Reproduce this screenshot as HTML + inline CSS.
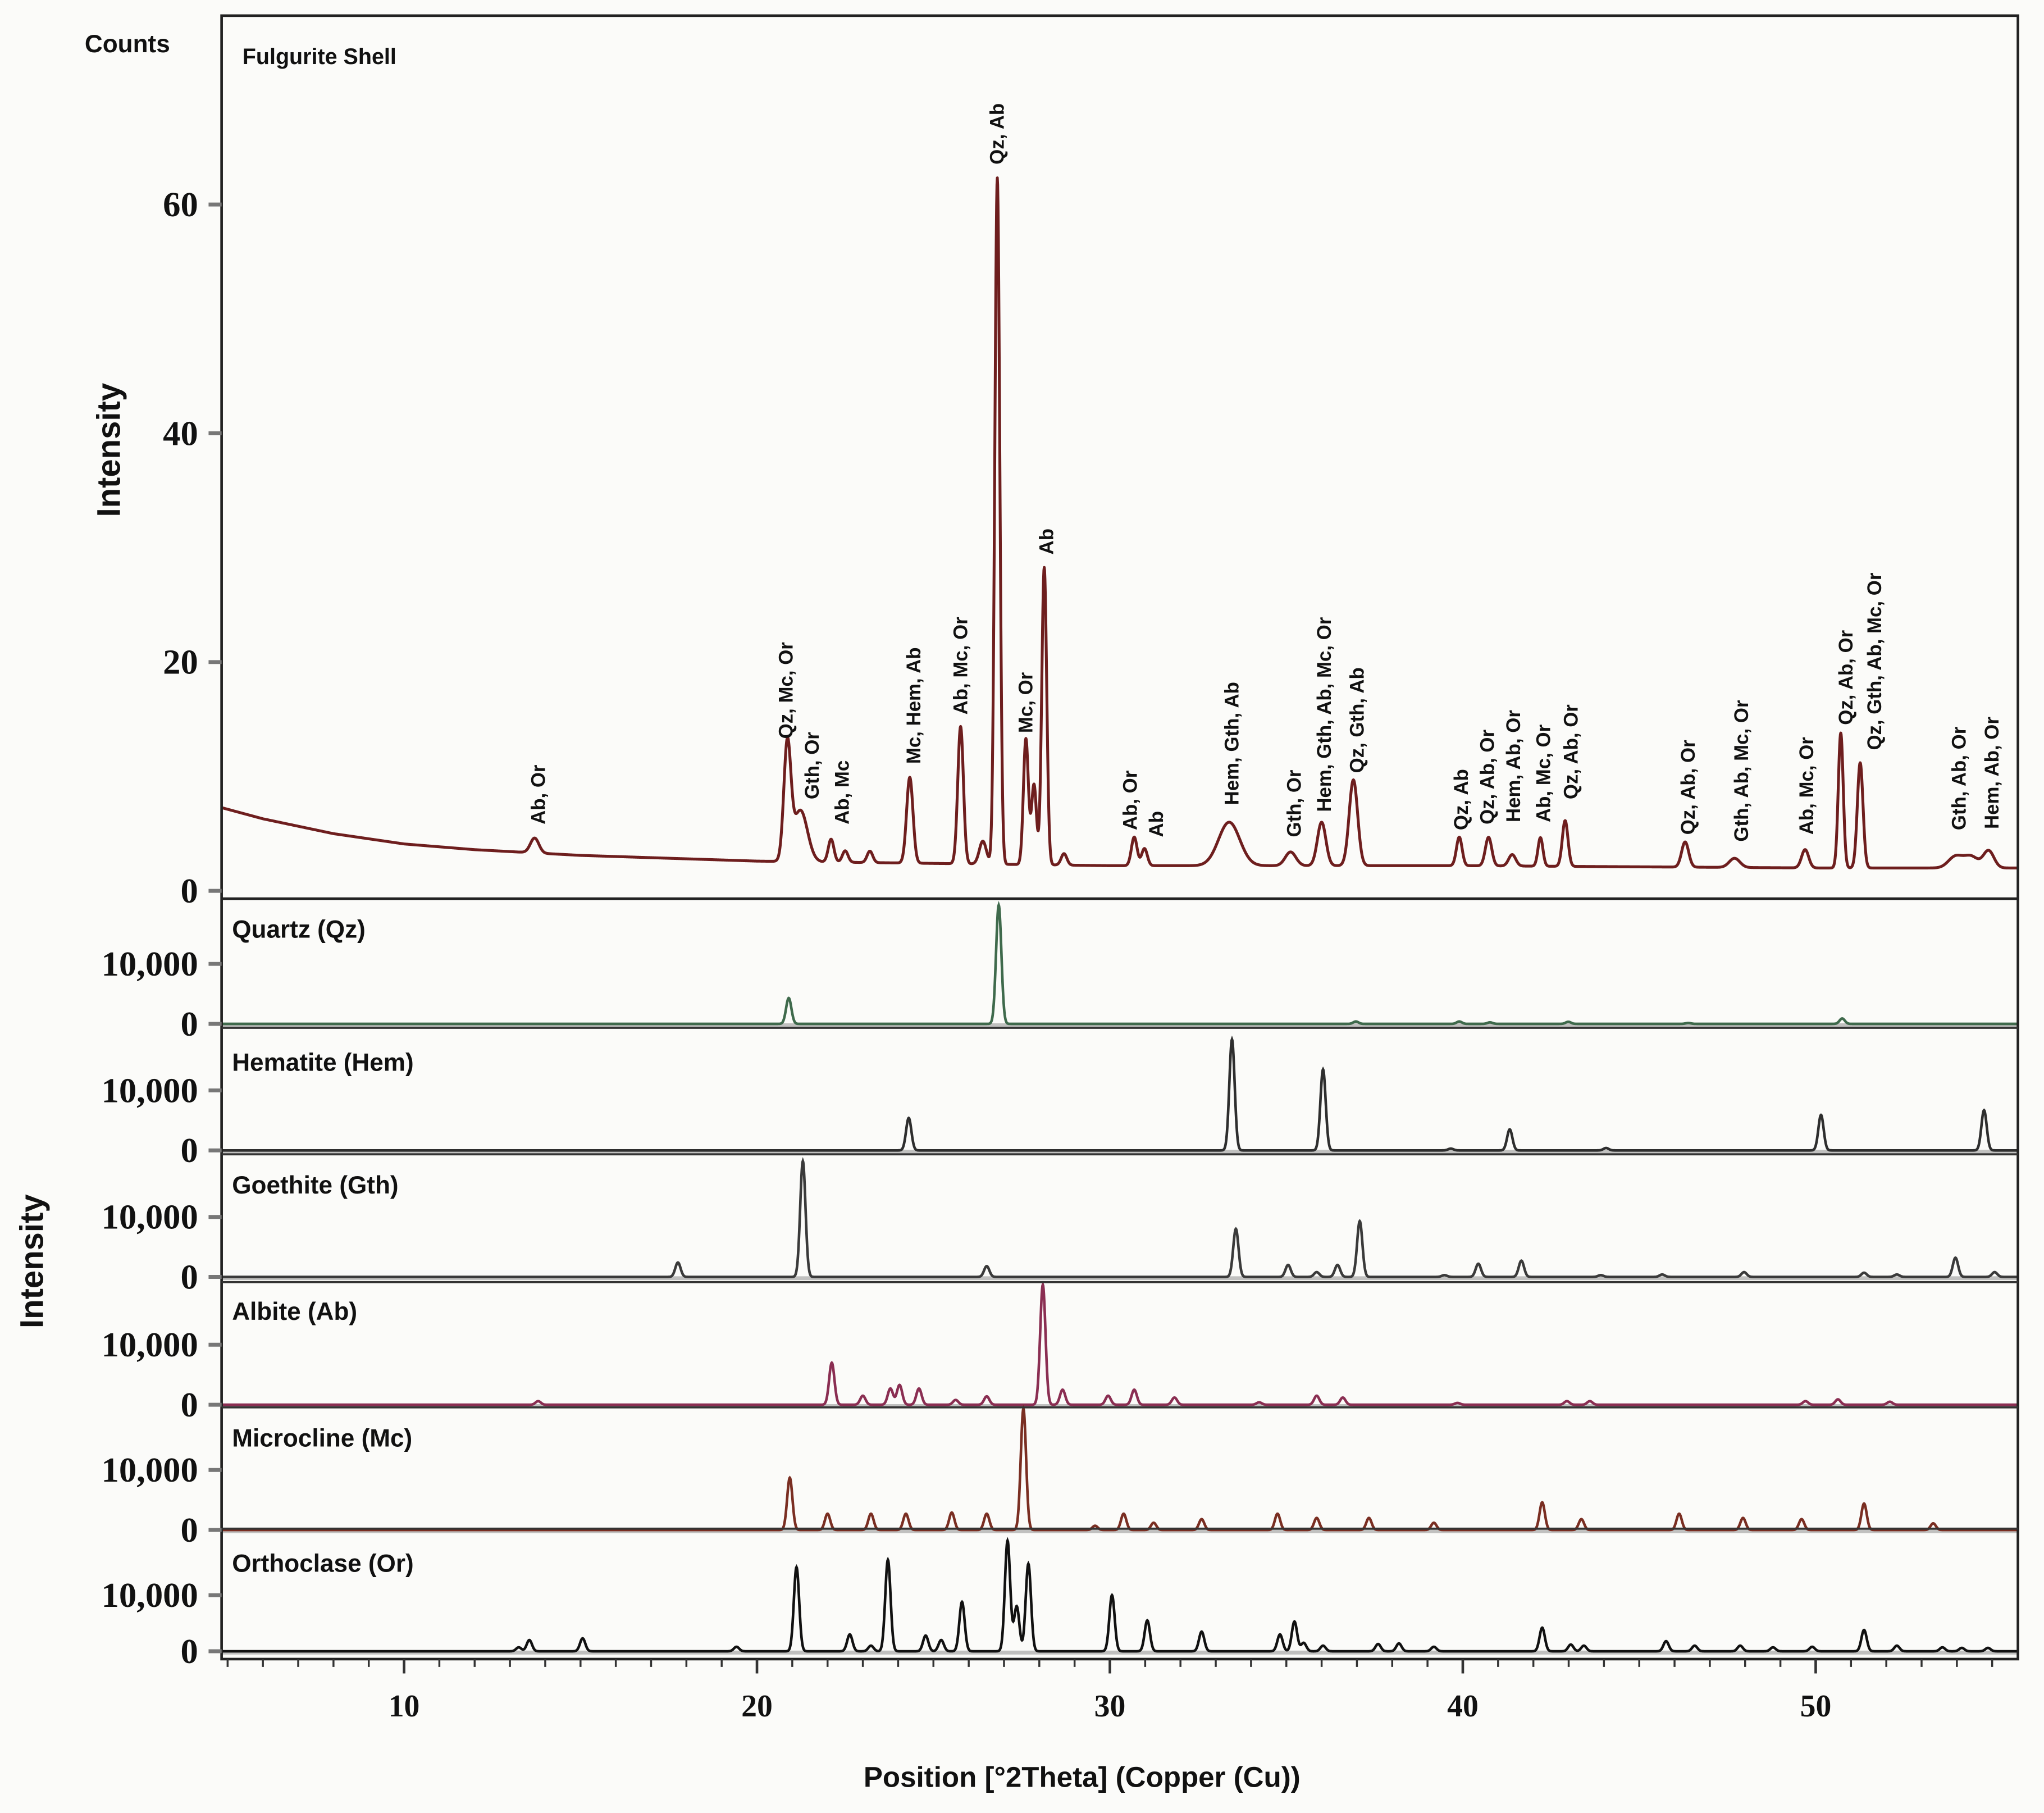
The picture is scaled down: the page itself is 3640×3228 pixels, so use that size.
<!DOCTYPE html>
<html><head><meta charset="utf-8"><style>
html,body{margin:0;padding:0;background:#fbfbf9}
svg{display:block}
text{font-family:"Liberation Sans",sans-serif;font-weight:bold;fill:#111}
.tn{font-family:"Liberation Serif",serif;font-weight:bold}
</style></head><body>
<svg id="chart" width="3640" height="3228" viewBox="0 0 1568 1390" preserveAspectRatio="none" xmlns="http://www.w3.org/2000/svg">
<rect x="0" y="0" width="1568" height="1390" fill="#fbfbf9"/>
<g id="marks"></g>
<rect x="170" y="12" width="1378" height="1260" fill="none" stroke="#222" stroke-width="2"/>
<line x1="170" y1="689" x2="1548" y2="689" stroke="#222" stroke-width="2"/>
<g id="axes"></g>
<text x="65" y="40" font-size="19">Counts</text>
<text x="186" y="49" font-size="17">Fulgurite Shell</text>
<text transform="translate(92,345) rotate(-90)" text-anchor="middle" font-size="25">Intensity</text>
<text transform="translate(33,967) rotate(-90)" text-anchor="middle" font-size="25">Intensity</text>
<text x="830" y="1370" text-anchor="middle" font-size="22">Position [°2Theta] (Copper (Cu))</text>
</svg>
<script>
const NS='http://www.w3.org/2000/svg';
// x axis
const xTicks=[10,20,30,40,50];
// top panel: fulgurite shell
const topTicks=[0,20,40,60];
const bgPos=[4.8,6,8,10,12,15,20,25,30,40,50,55.8];
const bgVal=[7.3,6.3,5.0,4.1,3.6,3.1,2.6,2.4,2.2,2.2,2.0,2.0];
const topPos=[13.7,20.86,21.23,22.1,22.5,23.2,24.33,25.77,26.4,26.81,27.62,27.85,28.14,28.7,30.69,30.98,33.38,35.12,36.0,36.9,39.9,40.73,41.4,42.2,42.9,46.3,47.7,49.7,50.71,51.26,53.96,54.4,54.9];
const topVal=[1.3,10,4.5,2,1,1,7.5,12,2,60,11,7,26,1,2.5,1.5,3.8,1.2,3.8,7.5,2.5,2.5,1,2.5,4,2.2,0.8,1.6,11.8,9.2,1,1,1.5];
const topWid=[0.12,0.1,0.2,0.08,0.08,0.08,0.09,0.08,0.1,0.07,0.07,0.07,0.07,0.08,0.08,0.08,0.3,0.15,0.12,0.12,0.08,0.09,0.1,0.07,0.08,0.1,0.15,0.1,0.07,0.08,0.2,0.2,0.15];
const labelText=["Ab, Or","Qz, Mc, Or","Gth, Or","Ab, Mc","Mc, Hem, Ab","Ab, Mc, Or","Qz, Ab","Mc, Or","Ab","Ab, Or","Ab","Hem, Gth, Ab","Gth, Or","Hem, Gth, Ab, Mc, Or","Qz, Gth, Ab","Qz, Ab","Qz, Ab, Or","Hem, Ab, Or","Ab, Mc, Or","Qz, Ab, Or","Qz, Ab, Or","Gth, Ab, Mc, Or","Ab, Mc, Or","Qz, Ab, Or","Qz, Gth, Ab, Mc, Or","Gth, Ab, Or","Hem, Ab, Or"];
const labelPos=[13.77,20.79,21.53,22.38,24.41,25.74,26.77,27.58,28.17,30.54,31.28,33.42,35.19,36.04,36.97,39.92,40.66,41.4,42.25,43.03,46.35,47.86,49.71,50.82,51.63,54.03,54.96];
const labelVal=[5.8,13.3,8,5.8,11.1,15.4,63.5,13.8,29.4,5.3,4.7,7.5,4.7,6.9,10.3,5.3,5.8,6,6,8,4.9,4.3,4.9,14.5,12.3,5.3,5.4];
// reference patterns
const refNames=["Quartz (Qz)","Hematite (Hem)","Goethite (Gth)","Albite (Ab)","Microcline (Mc)","Orthoclase (Or)"];
const refTicks=[0,10000];
const qzPos=[20.9,26.85,36.97,39.9,40.77,42.99,46.39,50.75];
const qzVal=[4300,19800,400,400,250,350,150,900];
const hemPos=[24.3,33.46,36.04,39.66,41.33,44.06,50.15,54.77];
const hemVal=[5400,18500,13500,300,3500,400,5900,6700];
const gthPos=[17.76,21.3,26.51,33.57,35.05,35.86,36.45,37.08,39.48,40.44,41.66,43.91,45.65,47.97,51.37,52.3,53.96,55.07];
const gthVal=[2400,19300,1800,8000,2000,800,2000,9300,300,2200,2700,300,400,800,700,400,3200,800];
const abPos=[13.8,22.12,23.0,23.78,24.04,24.59,25.63,26.51,28.1,28.66,29.95,30.69,31.83,34.23,35.86,36.6,39.85,42.95,43.6,49.71,50.63,52.1];
const abVal=[600,7000,1500,2700,3300,2700,800,1400,20000,2500,1500,2500,1200,400,1500,1200,300,600,600,600,900,500];
const mcPos=[20.93,22.0,23.23,24.22,25.52,26.51,27.55,29.58,30.39,31.24,32.6,34.75,35.86,37.34,39.18,42.25,43.36,46.13,47.94,49.6,51.37,53.33];
const mcVal=[8700,2700,2700,2700,2900,2700,20200,700,2700,1200,1800,2700,2000,2000,1200,4600,1800,2700,2000,1800,4400,1100];
const orPos=[13.25,13.55,15.06,19.42,21.12,22.63,23.23,23.71,24.78,25.22,25.81,27.1,27.36,27.69,30.06,31.06,32.6,34.82,35.23,35.49,36.04,37.6,38.19,39.18,42.25,43.06,43.43,45.76,46.57,47.86,48.79,49.9,51.37,52.3,53.59,54.14,54.88];
const orVal=[700,2000,2300,800,15000,3000,1000,16300,2800,2000,8800,19700,8000,15600,10000,5500,3500,3000,5300,1500,1000,1300,1400,800,4200,1200,1000,1800,1000,1000,700,800,3800,1000,700,600,600];

const X0=4.83, X1=55.73, PX0=170, PX1=1548;
const sx=v=>PX0+(v-X0)*(PX1-PX0)/(X1-X0);
const topY=v=>683-v*8.77;
const marks=document.getElementById('marks'), axes=document.getElementById('axes');
function mk(tag,attrs,parent){const e=document.createElementNS(NS,tag);for(const k in attrs)e.setAttribute(k,attrs[k]);parent.appendChild(e);return e;}
function interp(xs,ys,x){if(x<=xs[0])return ys[0];for(let i=1;i<xs.length;i++){if(x<=xs[i]){const t=(x-xs[i-1])/(xs[i]-xs[i-1]);return ys[i-1]+t*(ys[i]-ys[i-1]);}}return ys[ys.length-1];}
function profile(pos,val,wid,x){let s=0;for(let i=0;i<pos.length;i++){const w=wid?wid[i]:0.075;const d=(x-pos[i])/w;if(Math.abs(d)<6)s+=val[i]*Math.exp(-0.5*d*d);}return s;}

// top spectrum
let d='';
for(let x=X0;x<=X1;x+=0.01){const v=interp(bgPos,bgVal,x)+profile(topPos,topVal,topWid,x);d+=(d?'L':'M')+sx(x).toFixed(2)+','+topY(v).toFixed(2);}
const tp=mk('path',{d:d,fill:'none',stroke:'#6e1e1e','stroke-width':2.2,'stroke-linejoin':'round'},marks);



// top y ticks
topTicks.forEach(t=>{const y=topY(t);
 const l=mk('line',{x1:160,x2:170,y1:y,y2:y,stroke:'#777','stroke-width':3},axes);
 
 
 const tx=mk('text',{x:152,y:y+9,'text-anchor':'end','font-size':27,class:'tn'},axes);tx.textContent=t;
 
 
});
// peak labels
labelText.forEach((s,i)=>{const x=sx(labelPos[i])+6, y=topY(labelVal[i]);
 const t=mk('text',{transform:`translate(${x.toFixed(1)},${y.toFixed(1)}) rotate(-90)`,'font-size':15},axes);t.textContent=s;
 
 
});

// reference panels
const refPos=[qzPos,hemPos,gthPos,abPos,mcPos,orPos];
const refVal=[qzVal,hemVal,gthVal,abVal,mcVal,orVal];
const refColor=['#3f6a4c','#2e2e2e','#3a3a3a','#8a2e52','#7a2e22','#111'];
const base=[785,882,979,1077,1173,1266];
const per10k=[46,46,46,46,46,43];
const titleY=[719,821,915,1012,1109,1205];
refNames.forEach((nm,k)=>{
 const by=base[k], sc=per10k[k]/10000;
 if(k>0){const sep=mk('line',{x1:170,x2:1548,y1:by-94,y2:by-94,stroke:'#333','stroke-width':1.6},axes);
  
  }
 const bl=mk('line',{x1:170,x2:1548,y1:by+1,y2:by+1,stroke:'#9a9a9a','stroke-width':3,opacity:0.6},marks);
 
 
 let p='';
 for(let x=X0;x<=X1;x+=0.01){const v=profile(refPos[k],refVal[k],null,x);p+=(p?'L':'M')+sx(x).toFixed(2)+','+(by-v*sc).toFixed(2);}
 const pe=mk('path',{d:p,fill:'none',stroke:refColor[k],'stroke-width':2},marks);
 
 
 refTicks.forEach(t=>{const y=by-t*sc;
  const l=mk('line',{x1:160,x2:170,y1:y,y2:y,stroke:'#777','stroke-width':3},axes);
  
  
  const tx=mk('text',{x:152,y:y+9,'text-anchor':'end','font-size':27,class:'tn'},axes);tx.textContent=t.toLocaleString('en-US');
  
  
 });
 const tt=mk('text',{x:178,y:titleY[k],'font-size':19},axes);tt.textContent=nm;
 
 
});

// x ticks
for(let v=5;v<=55;v++){const x=sx(v);const major=v%10===0;
 const l=mk('line',{x1:x,x2:x,y1:1272,y2:major?1283:1278,stroke:'#333','stroke-width':major?2:1.5},axes);
 
 
}
xTicks.forEach(v=>{const t=mk('text',{x:sx(v),y:1316,'text-anchor':'middle','font-size':24,class:'tn'},axes);t.textContent=v;
 
 
});
</script>
</body></html>
